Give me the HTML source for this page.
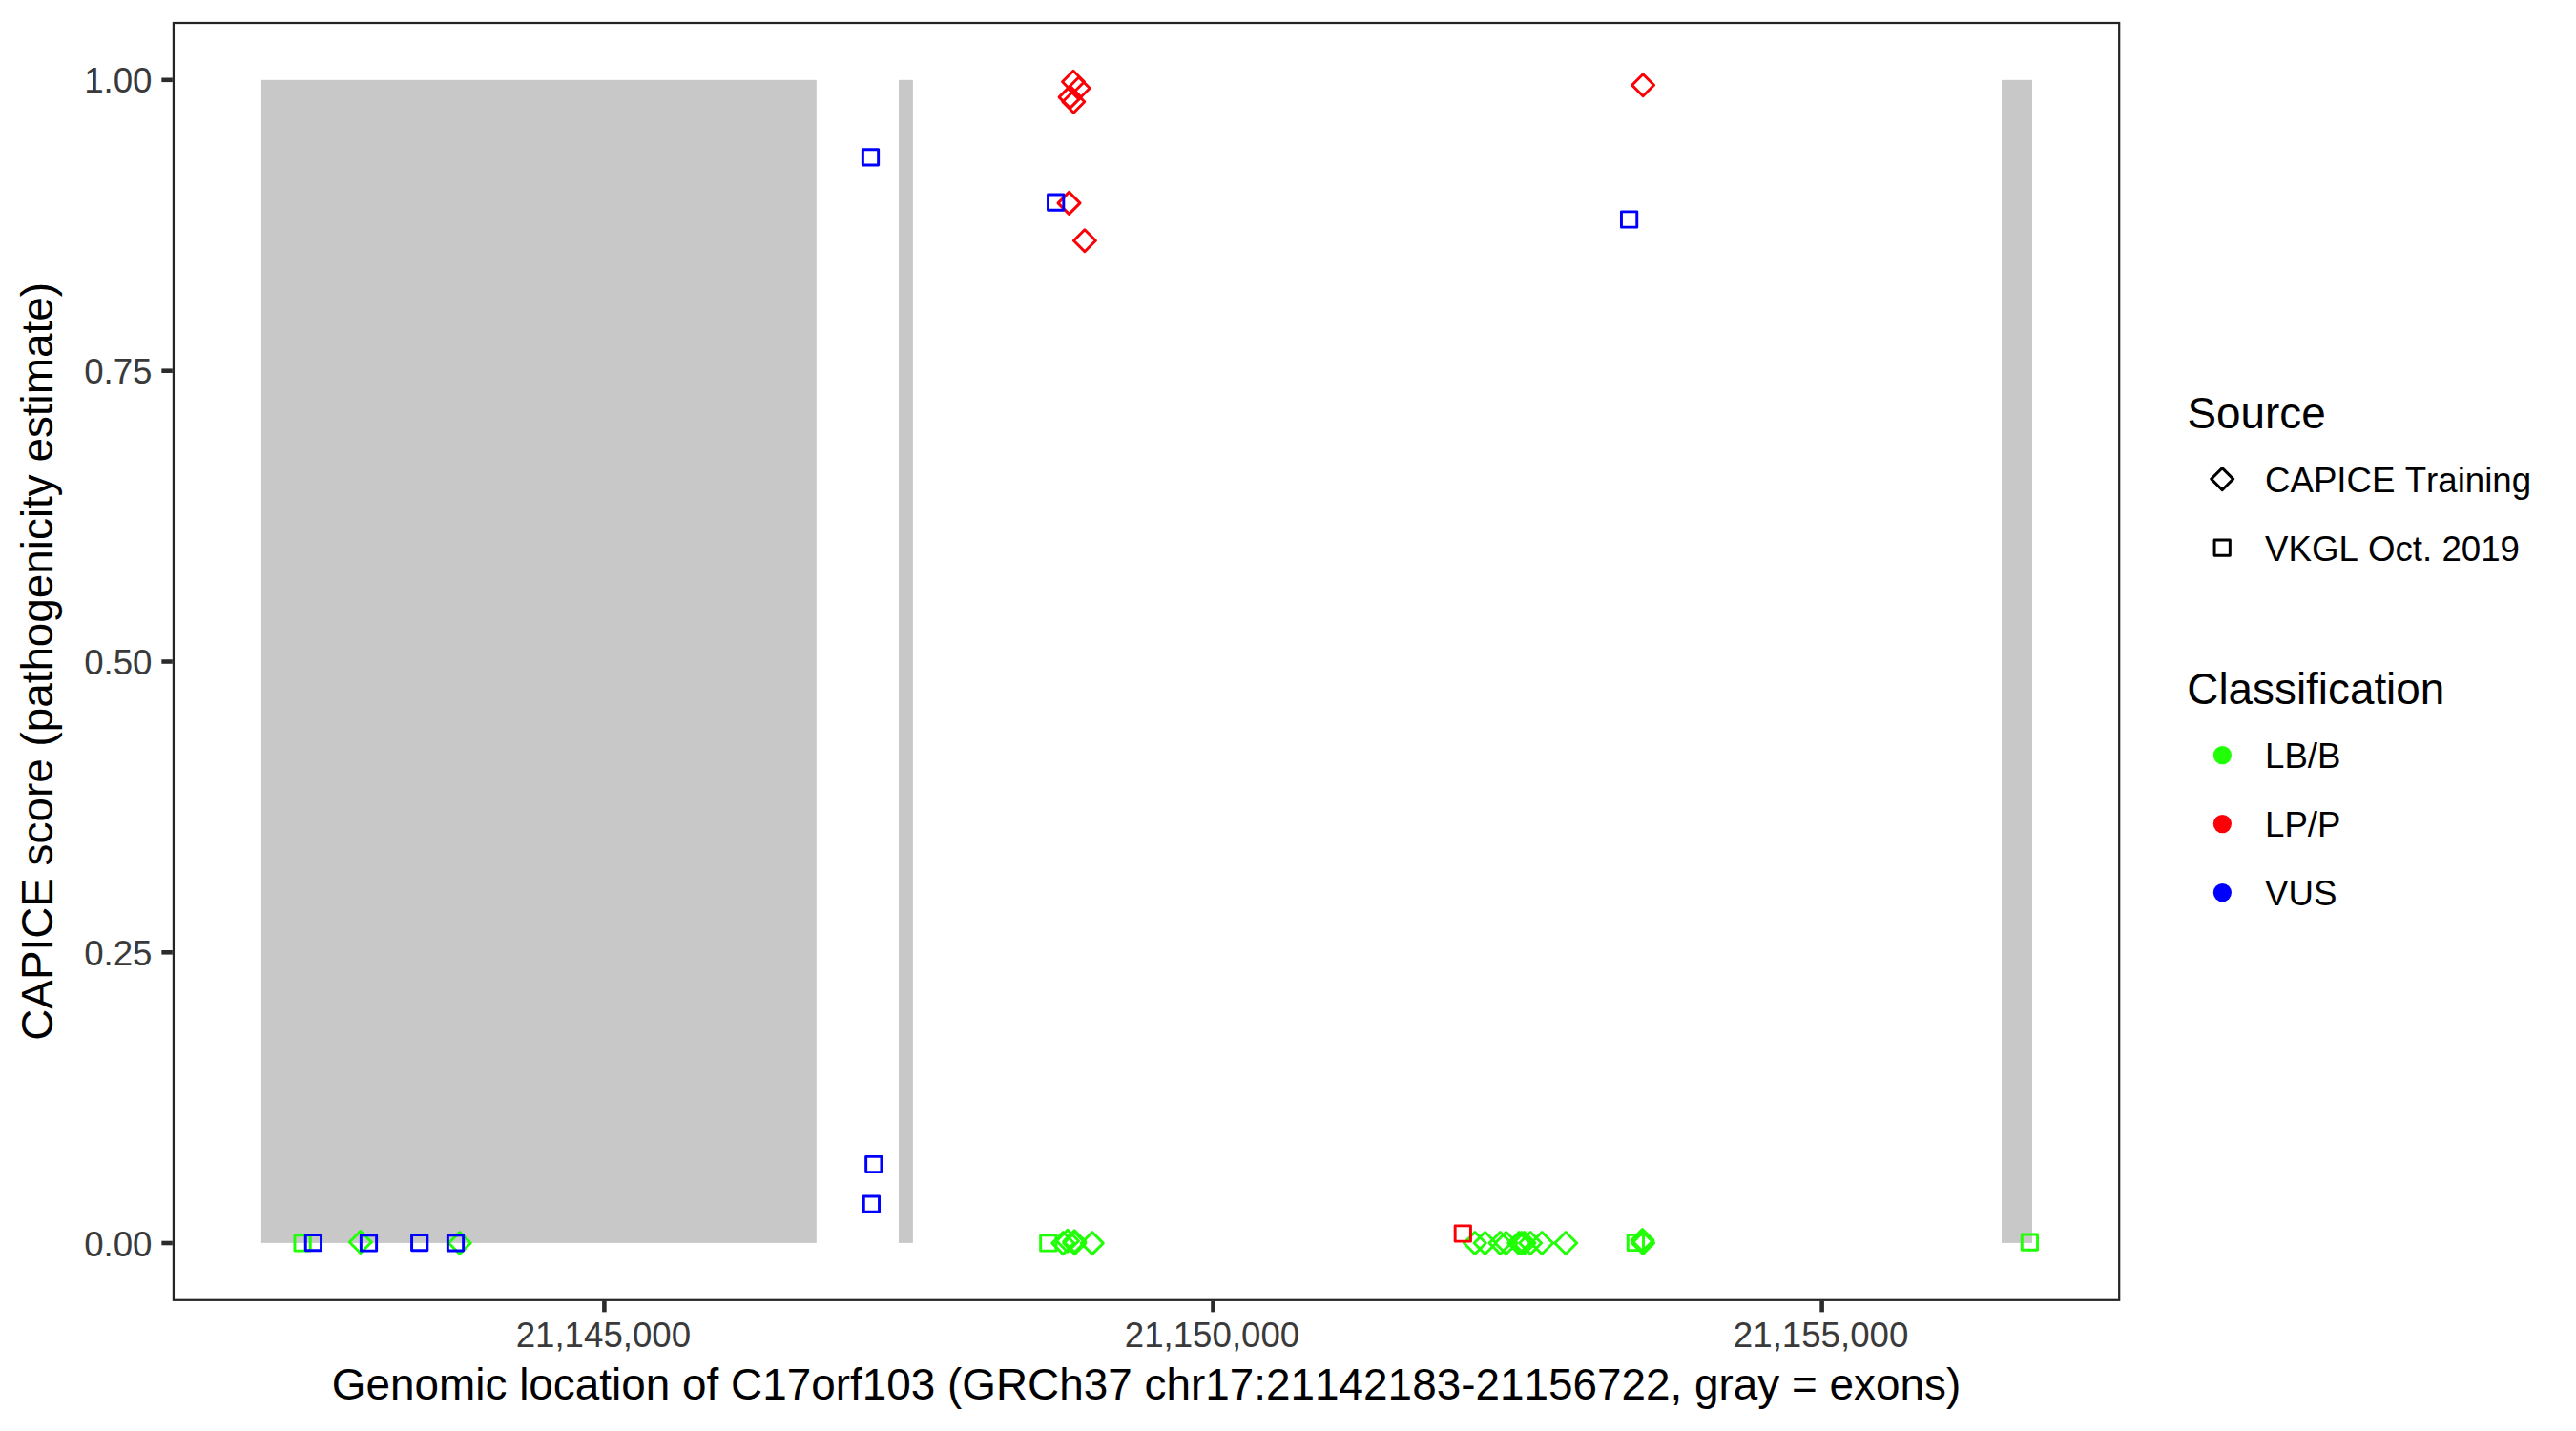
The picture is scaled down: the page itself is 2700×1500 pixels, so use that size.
<!DOCTYPE html>
<html lang="en"><head><meta charset="utf-8"><title>CAPICE score C17orf103</title>
<style>
html,body{margin:0;padding:0;background:#fff;}
body{width:2700px;height:1500px;overflow:hidden;}
svg{display:block;}
text{font-family:"Liberation Sans",Arial,Helvetica,sans-serif;font-kerning:none;font-variant-ligatures:none;}
.at{font-size:36.67px;fill:#3A3A3A;}
.ti{font-size:45.83px;fill:#000;}
.lt{font-size:36.67px;fill:#000;}
</style></head><body>
<svg width="2700" height="1500" viewBox="0 0 2700 1500">
<rect x="0" y="0" width="2700" height="1500" fill="#fff"/>

<rect x="273.9" y="83.85" width="581.90" height="1219.05" fill="#C8C8C8"/>
<rect x="942.0" y="83.85" width="14.90" height="1219.05" fill="#C8C8C8"/>
<rect x="2098.0" y="83.85" width="32.00" height="1219.05" fill="#C8C8C8"/>
<g fill="none" stroke-width="2.95" stroke-linejoin="round">
<rect x="308.96" y="1294.86" width="16.28" height="16.28" stroke="#21FF06"/>
<path d="M366.30 1302.00L377.80 1290.50L389.30 1302.00L377.80 1313.50Z" stroke="#21FF06"/>
<path d="M470.30 1303.00L481.80 1291.50L493.30 1303.00L481.80 1314.50Z" stroke="#21FF06"/>
<rect x="1090.66" y="1294.86" width="16.28" height="16.28" stroke="#21FF06"/>
<path d="M1102.80 1303.10L1114.30 1291.60L1125.80 1303.10L1114.30 1314.60Z" stroke="#21FF06"/>
<path d="M1107.50 1300.70L1119.00 1289.20L1130.50 1300.70L1119.00 1312.20Z" stroke="#21FF06"/>
<path d="M1114.70 1301.40L1126.20 1289.90L1137.70 1301.40L1126.20 1312.90Z" stroke="#21FF06"/>
<path d="M1114.90 1303.10L1126.40 1291.60L1137.90 1303.10L1126.40 1314.60Z" stroke="#21FF06"/>
<path d="M1133.30 1303.10L1144.80 1291.60L1156.30 1303.10L1144.80 1314.60Z" stroke="#21FF06"/>
<path d="M1534.40 1303.00L1545.90 1291.50L1557.40 1303.00L1545.90 1314.50Z" stroke="#21FF06"/>
<path d="M1545.10 1303.00L1556.60 1291.50L1568.10 1303.00L1556.60 1314.50Z" stroke="#21FF06"/>
<path d="M1561.00 1303.00L1572.50 1291.50L1584.00 1303.00L1572.50 1314.50Z" stroke="#21FF06"/>
<path d="M1567.10 1303.00L1578.60 1291.50L1590.10 1303.00L1578.60 1314.50Z" stroke="#21FF06"/>
<path d="M1580.60 1303.00L1592.10 1291.50L1603.60 1303.00L1592.10 1314.50Z" stroke="#21FF06"/>
<path d="M1583.30 1303.00L1594.80 1291.50L1606.30 1303.00L1594.80 1314.50Z" stroke="#21FF06"/>
<path d="M1586.10 1303.00L1597.60 1291.50L1609.10 1303.00L1597.60 1314.50Z" stroke="#21FF06"/>
<path d="M1592.70 1303.00L1604.20 1291.50L1615.70 1303.00L1604.20 1314.50Z" stroke="#21FF06"/>
<path d="M1604.70 1303.00L1616.20 1291.50L1627.70 1303.00L1616.20 1314.50Z" stroke="#21FF06"/>
<path d="M1629.70 1303.00L1641.20 1291.50L1652.70 1303.00L1641.20 1314.50Z" stroke="#21FF06"/>
<rect x="1706.26" y="1294.36" width="16.28" height="16.28" stroke="#21FF06"/>
<path d="M1710.00 1300.00L1721.50 1288.50L1733.00 1300.00L1721.50 1311.50Z" stroke="#21FF06"/>
<path d="M1710.60 1302.90L1722.10 1291.40L1733.60 1302.90L1722.10 1314.40Z" stroke="#21FF06"/>
<rect x="2119.26" y="1294.06" width="16.28" height="16.28" stroke="#21FF06"/>
<path d="M1113.50 85.80L1125.00 74.30L1136.50 85.80L1125.00 97.30Z" stroke="#FB0007"/>
<path d="M1119.20 92.50L1130.70 81.00L1142.20 92.50L1130.70 104.00Z" stroke="#FB0007"/>
<path d="M1110.10 101.90L1121.60 90.40L1133.10 101.90L1121.60 113.40Z" stroke="#FB0007"/>
<path d="M1113.80 106.80L1125.30 95.30L1136.80 106.80L1125.30 118.30Z" stroke="#FB0007"/>
<path d="M1109.00 212.90L1120.50 201.40L1132.00 212.90L1120.50 224.40Z" stroke="#FB0007"/>
<path d="M1125.40 252.20L1136.90 240.70L1148.40 252.20L1136.90 263.70Z" stroke="#FB0007"/>
<path d="M1710.60 89.30L1722.10 77.80L1733.60 89.30L1722.10 100.80Z" stroke="#FB0007"/>
<rect x="1525.16" y="1284.86" width="16.28" height="16.28" stroke="#FB0007"/>
<rect x="904.36" y="156.76" width="16.28" height="16.28" stroke="#0000FF"/>
<rect x="1098.52" y="203.96" width="16.28" height="16.28" stroke="#0000FF"/>
<rect x="1699.46" y="221.86" width="16.28" height="16.28" stroke="#0000FF"/>
<rect x="907.66" y="1212.36" width="16.28" height="16.28" stroke="#0000FF"/>
<rect x="905.26" y="1253.96" width="16.28" height="16.28" stroke="#0000FF"/>
<rect x="320.26" y="1294.46" width="16.28" height="16.28" stroke="#0000FF"/>
<rect x="378.36" y="1294.86" width="16.28" height="16.28" stroke="#0000FF"/>
<rect x="431.56" y="1294.46" width="16.28" height="16.28" stroke="#0000FF"/>
<rect x="469.36" y="1294.76" width="16.28" height="16.28" stroke="#0000FF"/>
</g>
<rect x="181.91" y="24.01" width="2039.28" height="1338.78" fill="none" stroke="#242424" stroke-width="2.22"/>
<line x1="169.34" x2="180.80" y1="1303.00" y2="1303.00" stroke="#2B2B2B" stroke-width="4.6"/>
<text class="at" x="159.5" y="1316.80" text-anchor="end">0.00</text>
<line x1="169.34" x2="180.80" y1="998.30" y2="998.30" stroke="#2B2B2B" stroke-width="4.6"/>
<text class="at" x="159.5" y="1011.80" text-anchor="end">0.25</text>
<line x1="169.34" x2="180.80" y1="693.50" y2="693.50" stroke="#2B2B2B" stroke-width="4.6"/>
<text class="at" x="159.5" y="706.80" text-anchor="end">0.50</text>
<line x1="169.34" x2="180.80" y1="388.70" y2="388.70" stroke="#2B2B2B" stroke-width="4.6"/>
<text class="at" x="159.5" y="401.80" text-anchor="end">0.75</text>
<line x1="169.34" x2="180.80" y1="83.80" y2="83.80" stroke="#2B2B2B" stroke-width="4.6"/>
<text class="at" x="159.5" y="96.80" text-anchor="end">1.00</text>
<line x1="633.40" x2="633.40" y1="1363.90" y2="1375.36" stroke="#2B2B2B" stroke-width="4.6"/>
<text class="at" x="632.40" y="1412.1" text-anchor="middle">21,145,000</text>
<line x1="1271.50" x2="1271.50" y1="1363.90" y2="1375.36" stroke="#2B2B2B" stroke-width="4.6"/>
<text class="at" x="1270.50" y="1412.1" text-anchor="middle">21,150,000</text>
<line x1="1909.60" x2="1909.60" y1="1363.90" y2="1375.36" stroke="#2B2B2B" stroke-width="4.6"/>
<text class="at" x="1908.60" y="1412.1" text-anchor="middle">21,155,000</text>
<text class="ti" x="1201.55" y="1466.8" text-anchor="middle" textLength="1707.4" lengthAdjust="spacing">Genomic location of C17orf103 (GRCh37 chr17:21142183-21156722, gray = exons)</text>
<text class="ti" transform="translate(54.8 693.40) rotate(-90)" text-anchor="middle">CAPICE score (pathogenicity estimate)</text>
<text class="ti" x="2292.5" y="449.0">Source</text>
<g fill="none" stroke="#000" stroke-width="2.95" stroke-linejoin="round">
<path d="M2317.70 502.10L2329.20 490.60L2340.70 502.10L2329.20 513.60Z" stroke="#000"/>
<rect x="2321.06" y="566.06" width="16.28" height="16.28" stroke="#000"/>
</g>
<text class="lt" x="2374.0" y="515.9">CAPICE Training</text>
<text class="lt" x="2374.0" y="588.0">VKGL Oct. 2019</text>
<text class="ti" x="2292.3" y="737.8">Classification</text>
<circle cx="2329.4" cy="791.6" r="9.6" fill="#21FF06"/>
<text class="lt" x="2374.0" y="805.05">LB/B</text>
<circle cx="2329.4" cy="863.6" r="9.6" fill="#FB0007"/>
<text class="lt" x="2374.0" y="877.05">LP/P</text>
<circle cx="2329.4" cy="935.6" r="9.6" fill="#0000FF"/>
<text class="lt" x="2374.0" y="949.05">VUS</text>
</svg></body></html>
